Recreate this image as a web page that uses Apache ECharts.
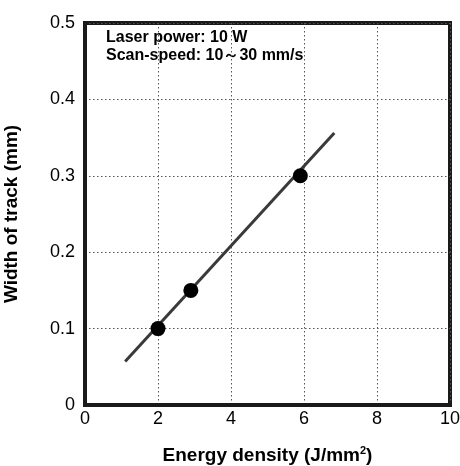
<!DOCTYPE html>
<html><head><meta charset="utf-8">
<script src="https://cdn.jsdelivr.net/npm/echarts@6/dist/echarts.min.js"></script>
<style>html,body{margin:0;padding:0;background:#fff}#c{width:460px;height:466px}</style>
</head><body><div id="c"></div>
<script>
const energyDensity = [2.0, 2.9, 5.9];
const trackWidth = [0.10, 0.15, 0.30];
const fitLineX = [1.1, 6.83];
const fitLineY = [0.057, 0.356];
const xTicks = [0, 2, 4, 6, 8, 10];
const yTicks = [0, 0.1, 0.2, 0.3, 0.4, 0.5];
const noteLines = ['Laser power: 10 W', 'Scan-speed: 10～30 mm/s'];

const chart = echarts.init(document.getElementById('c'));
const font = 'Liberation Sans, Arial, sans-serif';
chart.setOption({
  animation: false,
  grid: {left: 85, right: 10, top: 23, bottom: 61, show: true, borderColor: '#1a1a1a', borderWidth: 4, backgroundColor: 'transparent', outerBoundsMode: 'none', containLabel: false},
  xAxis: {
    type: 'value', min: 0, max: 10, interval: 2,
    name: 'Energy density (J/mm{s|2})', nameLocation: 'middle', nameGap: 40,
    nameTextStyle: {fontFamily: font, fontSize: 19, fontWeight: 'bold', color: '#000', rich: {s: {fontSize: 11, fontWeight: 'bold', verticalAlign: 'top', padding: [0,0,10,0], fontFamily: font}}},
    axisLine: {show: true, onZero: false, lineStyle: {color: '#1a1a1a', width: 4}},
    axisTick: {show: false},
    axisLabel: {fontFamily: font, fontSize: 18, color: '#000', margin: 5},
    splitLine: {show: true, lineStyle: {color: '#555', type: [1.5, 2.5], width: 1}}
  },
  yAxis: {
    type: 'value', min: 0, max: 0.5, interval: 0.1,
    name: 'Width of track (mm)', nameLocation: 'middle', nameGap: 64,
    nameTextStyle: {fontFamily: font, fontSize: 19, fontWeight: 'bold', color: '#000'},
    axisLine: {show: true, onZero: false, lineStyle: {color: '#1a1a1a', width: 4}},
    axisTick: {show: false},
    axisLabel: {fontFamily: font, fontSize: 18, color: '#000', margin: 10, formatter: v => String(Math.round(v*10)/10)},
    splitLine: {show: true, lineStyle: {color: '#555', type: [1.5, 2.5], width: 1}}
  },
  graphic: [{
    type: 'text', left: 106, top: 29,
    style: {text: noteLines.join('\n'), fontFamily: font, fontSize: 16, fontWeight: 'bold', fill: '#000', lineHeight: 18}
  }],
  series: [
    {type: 'line', data: fitLineX.map((x, i) => [x, fitLineY[i]]), symbol: 'none', lineStyle: {color: '#3a3a3a', width: 3}, z: 3},
    {type: 'scatter', data: energyDensity.map((x, i) => [x, trackWidth[i]]), symbolSize: 15, itemStyle: {color: '#000', opacity: 1}, z: 4}
  ]
});
</script></body></html>
